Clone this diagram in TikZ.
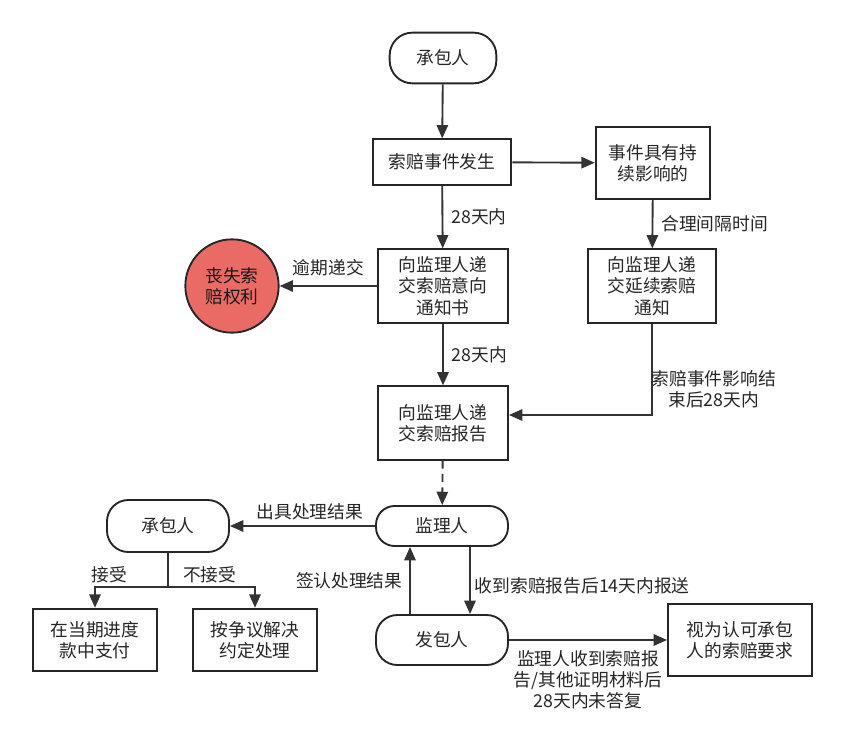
\documentclass[tikz,border=0pt]{standalone}
\usepackage{fontspec}
\setmainfont{Noto Sans CJK SC}
\usepackage{xcolor}
\usetikzlibrary{arrows.meta}

\definecolor{lostred}{RGB}{234,107,102}

\begin{document}
\begin{tikzpicture}[x=0.75pt,y=0.75pt,yscale=-1,xscale=1,
  font=\fontsize{13.3}{16}\selectfont,
  box/.style={draw=black!85, line width=1.4pt, fill=white, align=center, inner sep=2pt, text=black!85},
  pill/.style={box, rounded corners=14pt},
  arr/.style={draw=black!80, line width=1.4pt, -{Triangle[length=10pt,width=8.5pt]}},
  lbl/.style={text=black!85, inner sep=2pt, align=center}]
\useasboundingbox (0,0) rectangle (846,754);

% Start
\node [pill, minimum width=80pt, minimum height=38pt, rounded corners=17pt] (start) at (443,58) {承包人};
% Claim event
\node [box, minimum width=104pt, minimum height=34pt] (event) at (442,162) {索赔事件发生};
\node [box, minimum width=86pt, minimum height=54pt] (persist) at (653,163) {事件具有持\\续影响的};
% Notices
\node [box, minimum width=97.5pt, minimum height=55pt] (notice) at (443,286) {向监理人递\\交索赔意向\\通知书};
\node [box, minimum width=96pt, minimum height=55pt] (cont) at (652,286) {向监理人递\\交延续索赔\\通知};
\node [circle, draw=black!85, line width=1.4pt, fill=lostred, minimum size=70pt, align=center, inner sep=0pt, text=black!90] (lost) at (232,286) {丧失索\\赔权利};
% Report
\node [box, minimum width=97.5pt, minimum height=55pt] (report) at (443,423) {向监理人递\\交索赔报告};
% Supervisor and parties
\node [pill, minimum width=99pt, minimum height=30pt] (super) at (442,526) {监理人};
\node [pill, minimum width=91.5pt, minimum height=39pt, rounded corners=16pt] (contr) at (168,526) {承包人};
\node [pill, minimum width=99pt, minimum height=37.5pt, rounded corners=16pt] (owner) at (442,640) {发包人};
% Results
\node [box, minimum width=93pt, minimum height=47pt] (pay) at (95,640) {在当期进度\\款中支付};
\node [box, minimum width=93pt, minimum height=47pt] (dispute) at (255,640) {按争议解决\\约定处理};
\node [box, minimum width=108pt, minimum height=54pt] (accept) at (740,640) {视为认可承包\\人的索赔要求};

\coordinate (fork) at (168,587);

%Straight Lines
\draw [arr] (start) -- (event);
\draw [arr] (event) -- (persist);
\draw [arr] (event) -- node [lbl, right, xshift=4pt] {28天内} (notice);
\draw [arr] (notice) -- node [lbl, above, yshift=5pt] {逾期递交} (lost);
\draw [arr] (persist) -- node [lbl, right, xshift=4pt] {合理间隔时间} (cont);
\draw [arr] (notice) -- node [lbl, right, xshift=4pt] {28天内} (report);
\draw [arr] (cont.south) |- node [lbl, right, pos=0.36, inner sep=0pt, xshift=-1pt] {索赔事件影响结\\束后28天内} ([yshift=-6pt]report.east);
\draw [arr, dashed, dash pattern=on 6pt off 4pt] (report) -- (super);
\draw [arr] (super) -- node [lbl, above, pos=0.45, yshift=2pt] {出具处理结果} (contr);
\draw [draw=black!80, line width=1.4pt] (contr) -- (fork);
\draw [arr] (fork) -| node [lbl, above, pos=0.4] {接受} (pay);
\draw [arr] (fork) -| node [lbl, above, pos=0.24] {不接受} (dispute);
\draw [arr] ([xshift=-24pt]owner.north) -- node [lbl, left, xshift=-3pt] {签认处理结果} ([xshift=-24pt]super.south);
\draw [arr] ([xshift=21pt]super.south) -- node [lbl, right, xshift=1pt, yshift=-4pt] {收到索赔报告后14天内报送} ([xshift=21pt]owner.north);
\draw [arr] (owner) -- node [lbl, below, yshift=-5pt] {监理人收到索赔报\\告/其他证明材料后\\28天内未答复} (accept);

\end{tikzpicture}
\end{document}
